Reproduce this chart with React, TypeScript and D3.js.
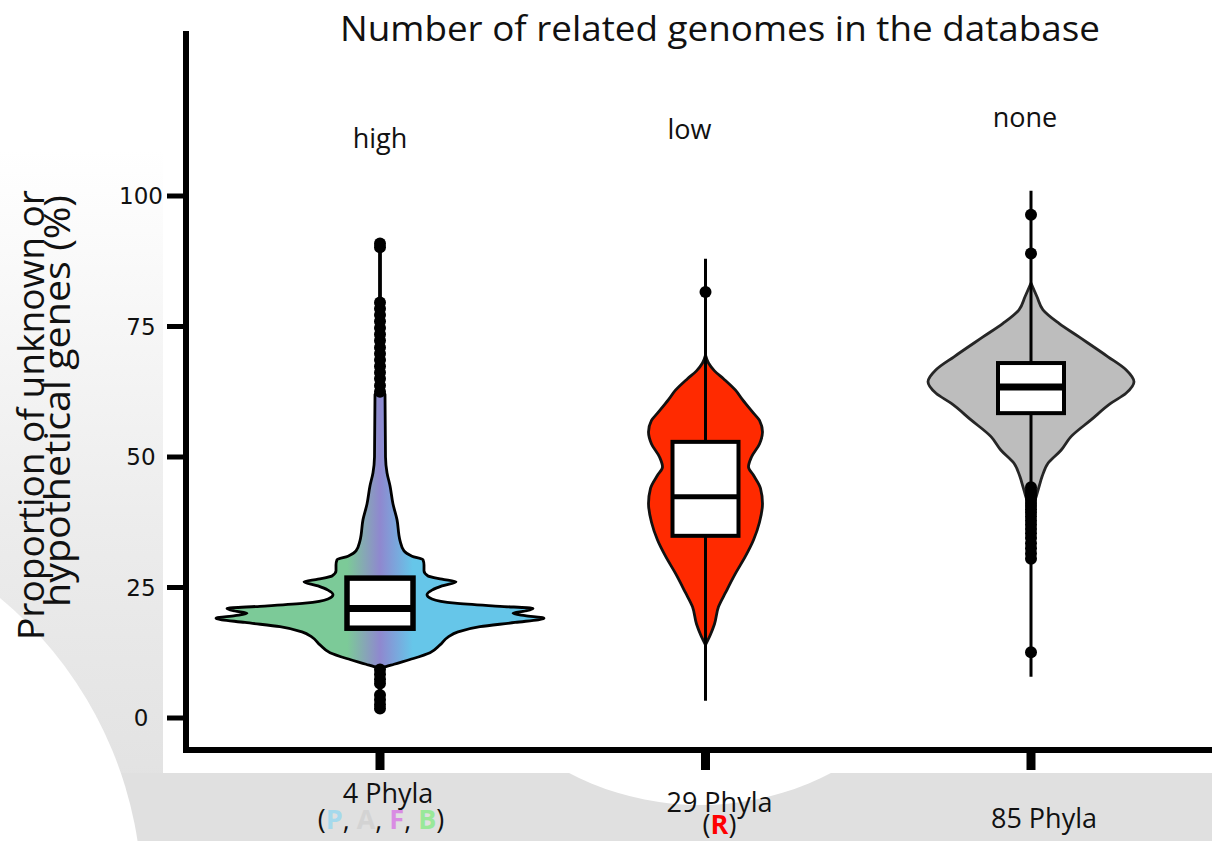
import { useEffect, useRef } from "react";
import * as d3 from "d3";

const categories = ["high", "low", "none"];
const phylaCounts = ["4 Phyla", "29 Phyla", "85 Phyla"];
const yTicks = [0, 25, 50, 75, 100];

// violin outlines: [value %, density (arbitrary units)]
const highDensity: [number, number][] = [
  [1.5, 0], [1.8, 0.4], [9.3, 0.4], [9.6, 3], [10.3, 14], [11.2, 30], [12.5, 50],
  [14, 60], [15.5, 68], [16.5, 78], [17.5, 100], [18.3, 135], [19.1, 164],
  [19.6, 145], [20.05, 133], [20.5, 145], [21.0, 153], [21.4, 120], [22, 75],
  [22.8, 52], [23.6, 47], [24.5, 52], [25.3, 62], [26.1, 76], [26.6, 62],
  [27.2, 48], [28.2, 44], [29.3, 44], [30.3, 43], [31, 32], [32, 24], [34, 20],
  [38, 17], [41, 13], [44.5, 10], [47, 7], [50, 5.5], [62, 5], [63, 0.4],
  [90.8, 0.4], [91.3, 0],
];
const lowDensity: [number, number][] = [
  [14, 0], [16, 5], [18, 9], [21.3, 13], [24, 20], [27.7, 30], [31, 40],
  [34.1, 48], [37.5, 54], [41.1, 57], [44, 55], [46.5, 48], [48.1, 43], [50, 46],
  [52.5, 54], [54.8, 57], [57, 54], [58.4, 48], [61, 37], [62.8, 30], [65, 18],
  [66.5, 9], [68, 3], [69.5, 0],
];
const noneDensity: [number, number][] = [
  [40, 0], [41.2, 3], [44.3, 8], [46.2, 11], [48.8, 17], [51.3, 30], [53.9, 40],
  [57.1, 60], [60.3, 80], [62.2, 95], [64.4, 103], [66.7, 95], [69.2, 77],
  [73, 48], [75.6, 28], [78.2, 12], [80.7, 6], [83.3, 0],
];

const q1 = [17.2, 34.9, 58.4];
const medians = [21, 42.4, 63.4];
const q3 = [26.8, 52.9, 68.0];
const whiskerLow = [1.5, 3.3, 7.9];
const whiskerHigh = [91.3, 88, 101];

const highOutliers = [1.8, 2.6, 3.5, 4.4, 6.6, 7.4, 8.4, 9.3, 62.5, 63.7, 65, 66.2,
  67.4, 68.6, 69.8, 71, 72.3, 73.5, 74.7, 76, 77.2, 78.4, 79.6, 90.2, 90.9];
const lowOutliers = [81.6];
const noneOutliers = [12.6, 30.5, 31.5, 32.5, 33.5, 34.5, 35.4, 36.2, 37, 37.8, 38.6,
  39.3, 40, 40.6, 41.2, 41.8, 42.4, 43, 43.6, 44.2, 89, 96.4];

const FONT = "'Open Sans', sans-serif";

const App = () => {
  const ref = useRef<SVGSVGElement | null>(null);

  useEffect(() => {
    if (!ref.current) return;
    const svg = d3.select(ref.current);
    svg.selectAll("*").remove();

    const width = 1212;
    const height = 841;

    const x = d3.scalePoint<string>().domain(categories).range([380, 1031]);
    const y = d3.scaleLinear().domain([0, 100]).range([718, 196]);
    const w = d3.scaleLinear().domain([0, 164]).range([0, 164]);

    const defs = svg.append("defs");
    const sideGrad = defs.append("linearGradient")
      .attr("id", "sideGrad").attr("x1", 0).attr("x2", 0).attr("y1", 0).attr("y2", 1);
    sideGrad.append("stop").attr("offset", "0%").attr("stop-color", "#ffffff");
    sideGrad.append("stop").attr("offset", "55%").attr("stop-color", "#ececec");
    sideGrad.append("stop").attr("offset", "100%").attr("stop-color", "#e0e0e0");

    const cx0 = x("high")!;
    const phyGrad = defs.append("linearGradient")
      .attr("id", "phyGrad").attr("gradientUnits", "userSpaceOnUse")
      .attr("x1", cx0 - 164).attr("x2", cx0 + 164).attr("y1", 0).attr("y2", 0);
    [[0, "#7cca98"], [0.4, "#7cca98"], [0.5, "#8f88cf"], [0.6, "#66c6e9"], [1, "#66c6e9"]]
      .forEach(([o, c]) => phyGrad.append("stop").attr("offset", o as number).attr("stop-color", c as string));

    // slide background
    svg.append("rect").attr("width", width).attr("height", height).attr("fill", "#fff");
    svg.append("rect").attr("x", 0).attr("y", 150).attr("width", 163).attr("height", height - 150)
      .attr("fill", "url(#sideGrad)");
    svg.append("rect").attr("x", 0).attr("y", 773).attr("width", width).attr("height", height - 773)
      .attr("fill", "#e0e0e0");
    svg.append("circle").attr("cx", -250).attr("cy", 900).attr("r", 392).attr("fill", "#fff");
    svg.append("circle").attr("cx", 700).attr("cy", 521).attr("r", 284).attr("fill", "#fff");
    svg.append("rect").attr("x", 163).attr("y", 0).attr("width", width - 163).attr("height", 773)
      .attr("fill", "#fff");

    // axes
    svg.append("line").attr("x1", 186).attr("x2", 186).attr("y1", 31).attr("y2", 753)
      .attr("stroke", "#000").attr("stroke-width", 6);
    svg.append("line").attr("x1", 183).attr("x2", width).attr("y1", 750).attr("y2", 750)
      .attr("stroke", "#000").attr("stroke-width", 6);

    svg.append("g").selectAll("line").data(yTicks).join("line")
      .attr("x1", 167).attr("x2", 186).attr("y1", d => y(d)).attr("y2", d => y(d))
      .attr("stroke", "#000").attr("stroke-width", 5);
    svg.append("g").selectAll("text").data(yTicks).join("text")
      .attr("x", 141).attr("y", d => y(d)).attr("dy", "0.36em")
      .attr("text-anchor", "middle").attr("font-family", "'DejaVu Sans', sans-serif")
      .attr("font-size", 23).attr("fill", "#111").text(d => d);

    svg.append("g").selectAll("line").data(categories).join("line")
      .attr("x1", d => x(d)!).attr("x2", d => x(d)!).attr("y1", 750).attr("y2", 770)
      .attr("stroke", "#000").attr("stroke-width", 9);

    // violins
    const profiles = [highDensity, lowDensity, noneDensity];
    const fills = ["url(#phyGrad)", "#ff2a00", "#bdbdbd"];
    const strokes = ["#000", "#111", "#262626"];
    const outliers = [highOutliers, lowOutliers, noneOutliers];
    const boxW = 66;

    categories.forEach((c, i) => {
      const cx = x(c)!;
      const g = svg.append("g");
      const area = d3.area<[number, number]>()
        .y(d => y(d[0]))
        .x0(d => cx - w(d[1]))
        .x1(d => cx + w(d[1]))
        .curve(d3.curveMonotoneY);

      const whisker = () => g.append("line")
        .attr("x1", cx).attr("x2", cx)
        .attr("y1", y(whiskerLow[i])).attr("y2", y(whiskerHigh[i]))
        .attr("stroke", "#000").attr("stroke-width", 3);

      if (i === 0) whisker();
      g.append("path").datum(profiles[i]).attr("d", area)
        .attr("fill", fills[i]).attr("stroke", strokes[i]).attr("stroke-width", 2.8)
        .attr("stroke-linejoin", "round");
      if (i > 0) whisker();

      g.selectAll("circle").data(outliers[i]).join("circle")
        .attr("cx", cx).attr("cy", d => y(d)).attr("r", 6).attr("fill", "#000");

      g.append("rect")
        .attr("x", cx - boxW / 2).attr("width", boxW)
        .attr("y", y(q3[i])).attr("height", y(q1[i]) - y(q3[i]))
        .attr("fill", "#fff").attr("stroke", "#000").attr("stroke-width", i === 0 ? 5.5 : 4);
      g.append("line")
        .attr("x1", cx - boxW / 2).attr("x2", cx + boxW / 2)
        .attr("y1", y(medians[i])).attr("y2", y(medians[i]))
        .attr("stroke", "#000").attr("stroke-width", i === 1 ? 5 : 7);
    });

    // texts
    svg.append("text").attr("x", 720).attr("y", 41).attr("text-anchor", "middle")
      .attr("font-family", FONT).attr("font-size", 35).attr("fill", "#111")
      .attr("textLength", 760).attr("lengthAdjust", "spacingAndGlyphs")
      .text("Number of related genomes in the database");

    const catDx = [0, -16, -6];
    const catY = [148, 139, 127];
    svg.append("g").selectAll("text").data(categories).join("text")
      .attr("x", (d, i) => x(d)! + catDx[i]).attr("y", (d, i) => catY[i])
      .attr("text-anchor", "middle").attr("font-family", FONT).attr("font-size", 27)
      .attr("fill", "#111").text(d => d);

    const yLab = svg.append("g").attr("font-family", FONT).attr("font-size", 36).attr("fill", "#111");
    yLab.append("text").attr("transform", "translate(44,640) rotate(-90)")
      .attr("textLength", 450).attr("lengthAdjust", "spacingAndGlyphs")
      .text("Proportion of unknown or");
    yLab.append("text").attr("transform", "translate(70,607) rotate(-90)")
      .attr("textLength", 412).attr("lengthAdjust", "spacingAndGlyphs")
      .text("hypothetical genes (%)");

    const phyDx = [8, 14, 13];
    const phyY = [803, 812, 828];
    svg.append("g").selectAll("text").data(phylaCounts).join("text")
      .attr("x", (d, i) => x(categories[i])! + phyDx[i]).attr("y", (d, i) => phyY[i])
      .attr("text-anchor", "middle").attr("font-family", FONT).attr("font-size", 27)
      .attr("fill", "#111").text(d => d);

    const sub1 = svg.append("text").attr("x", x("high")! + 1).attr("y", 829)
      .attr("text-anchor", "middle").attr("font-family", FONT).attr("font-size", 27).attr("fill", "#111");
    const parts: [string, string, boolean][] = [
      ["(", "#111", false], ["P", "#a5d9ec", true], [", ", "#111", false], ["A", "#d3d3d3", true],
      [", ", "#111", false], ["F", "#d98ce3", true], [", ", "#111", false], ["B", "#99e899", true],
      [")", "#111", false],
    ];
    parts.forEach(([t, c, b]) => sub1.append("tspan").attr("fill", c)
      .attr("font-weight", b ? 700 : 400).text(t));

    const sub2 = svg.append("text").attr("x", x("low")! + 14).attr("y", 834)
      .attr("text-anchor", "middle").attr("font-family", FONT).attr("font-size", 27).attr("fill", "#111");
    sub2.append("tspan").text("(");
    sub2.append("tspan").attr("fill", "#ff0000").attr("font-weight", 700).text("R");
    sub2.append("tspan").text(")");
  }, []);

  return (
    <svg ref={ref} width={1212} height={841}
      style={{ position: "absolute", left: 0, top: 0, display: "block" }} />
  );
};

export default App;
